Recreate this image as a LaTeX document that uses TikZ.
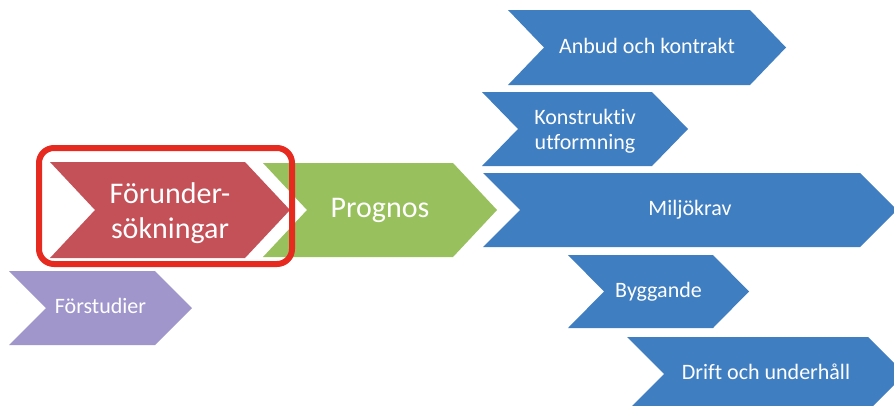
\documentclass[tikz,border=0pt]{standalone}
\usepackage{fontspec}
\setmainfont{Carlito}[Ligatures=NoCommon]
\definecolor{cblue}{RGB}{64,126,194}
\definecolor{cred}{RGB}{196,80,88}
\definecolor{cgreen}{RGB}{152,192,92}
\definecolor{cpurple}{RGB}{160,150,204}
\definecolor{cframe}{RGB}{230,42,32}
\newcommand\chev[9]{%
  \fill[#7] (#2,#3) -- (#4,#3) -- ({#4+#6},{(#3+#5)/2}) -- (#4,#5) -- (#2,#5) -- ({#2+#6},{(#3+#5)/2}) -- cycle;
  \node[#8] (#1) at ({(#2+#6+#4)/2},{(#3+#5)/2}) {#9};}
\begin{document}
\begin{tikzpicture}[x=1pt,y=-1pt,
  small/.style={text=white,font=\fontsize{22}{25}\selectfont,inner sep=0pt,text height=16.5pt,text depth=5.5pt},
  smallml/.style={text=white,font=\fontsize{22}{25}\selectfont,inner sep=0pt,align=center,yshift=-2pt},
  big/.style={text=white,font=\fontsize{30}{35}\selectfont,inner sep=0pt,text height=22.5pt,text depth=7.5pt},
  bigml/.style={text=white,font=\fontsize{30}{35}\selectfont,inner sep=0pt,align=center,yshift=-3pt},
  frame/.style={draw=cframe,line width=6pt,rounded corners=15pt}]
\clip (0,0) rectangle (894,405);
\fill[white] (0,0) rectangle (894,405);
% left chain
\chev{forstudier}{9}{271}{155}{345}{37}{cpurple}{small}{Förstudier}
\chev{prognos}{263}{163}{453}{257}{44}{cgreen}{big}{Prognos}
\chev{forunder}{50}{162}{245}{258}{45}{cred}{bigml}{Förunder-\\sökningar}
\node[frame,minimum width=253pt,minimum height=116pt,inner sep=0pt] (ram) at (165.5,206) {};
% blue fan
\chev{anbud}{508}{10}{750}{85}{36}{cblue}{small}{Anbud och kontrakt}
\chev{konstr}{482}{92}{652}{166}{36}{cblue}{smallml}{Konstruktiv\\utformning}
\chev{miljo}{483}{173}{860}{247}{37}{cblue}{small}{Miljökrav}
\chev{bygg}{568}{255}{713}{328}{36}{cblue}{small}{Byggande}
\chev{drift}{627}{337}{868}{411}{37}{cblue}{small}{Drift och underhåll}
\end{tikzpicture}
\end{document}
